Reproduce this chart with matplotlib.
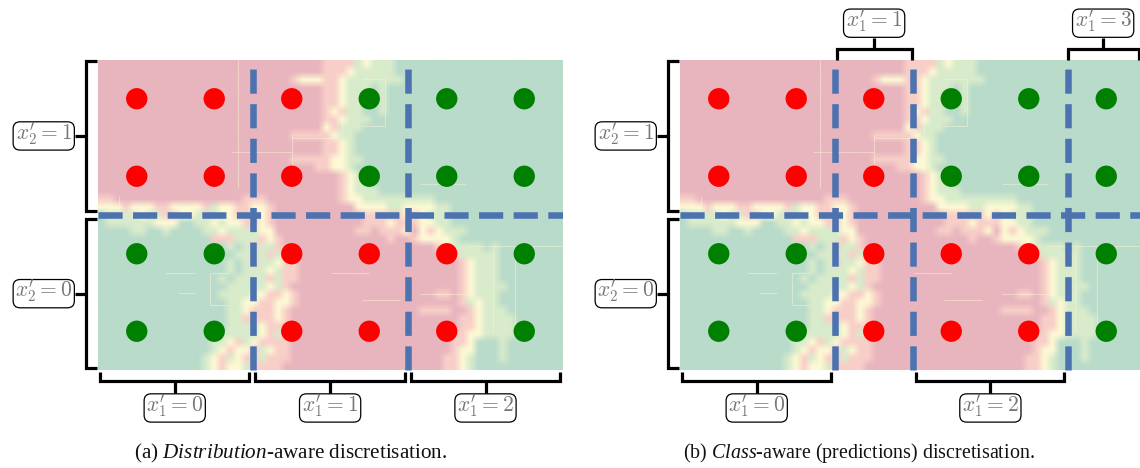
import numpy as np
import matplotlib
matplotlib.use("Agg")
import matplotlib.pyplot as plt
from matplotlib.colors import to_rgb
from matplotlib.patches import FancyBboxPatch

plt.rcParams['mathtext.fontset'] = 'custom'
plt.rcParams['mathtext.it'] = 'Liberation Serif:italic'
plt.rcParams['mathtext.rm'] = 'Liberation Serif'

x_points = [0, 1, 2, 3, 4, 5]
y_points = [0, 1, 2, 3]
classes_y3 = ['r', 'r', 'r', 'g', 'g', 'g']
classes_y2 = ['r', 'r', 'r', 'g', 'g', 'g']
classes_y1 = ['g', 'g', 'r', 'r', 'r', 'g']
classes_y0 = ['g', 'g', 'r', 'r', 'r', 'g']

cuts_a = [1.5, 3.5]
cuts_b = [1.5, 2.5, 4.5]
cut_y = [1.5]

bins_a = [(-0.47, 1.45, "$x^{\\prime}_1 = 0$"), (1.53, 3.46, "$x^{\\prime}_1 = 1$"), (3.54, 5.46, "$x^{\\prime}_1 = 2$")]
bins_b_bottom = [(-0.47, 1.45, "$x^{\\prime}_1 = 0$"), (2.55, 4.46, "$x^{\\prime}_1 = 2$")]
bins_b_top = [(1.52, 2.49, "$x^{\\prime}_1 = 1$"), (4.5, 5.42, "$x^{\\prime}_1 = 3$")]
bins_y = [(1.55, 3.49, "$x^{\\prime}_2 = 1$"), (-0.48, 1.45, "$x^{\\prime}_2 = 0$")]

# decision surface, top row first
surface = [
 "RRRRRRRRRRRRRRRRRRRRRRRRRRRRrrrrgygggGGGGGGGGGGGGGGGGGGGGG",
 "RRRRRRRRRRRRRRRRRRRRRRRRRRRRrrrygggggGGGGGGGGGGGGGGGGGGGGG",
 "RRRRRRRRRRRRRRRRRRRRRRRRryyyrrygggggggGGGGGGGGGGGGGGGGGGGG",
 "RRRRRRRRRRRRRRRRRRRRRRRRRRRRrrygggGgGGGGGGGGGGGGGGGGGGGGGG",
 "RRRRRRRRRRRRRRRRRRRRRRRRRRRRrryggGGgGGGGGGGGGGGGGGGGGGGGGG",
 "RRRRRRRRRRRRRRRRRRRRRRRRRRRRrryggGGgGGGGGGGGGGGGGGGGGGGGGG",
 "RRRRRRRRRRRRRRRRRRRRRRRRRRRRryrggGGgGGGGGGGGGGGGGGGGGGGGGG",
 "RRRRRRRRRRRRRRRRRRRRRRRRRRRRrrygggGGGGGGGGGGGGGGGGGGGGGGGG",
 "RRRRRRRRRRRRRRRRRRRRRRRRRRRRyrgggGGGGGGGGGGGGGGGGGGGGGGGGG",
 "RRRRRRRRRRRRRRRRRRRRRRRRrrrrryggGGGGGGGGGGGGGGGGGGGGGGGGGG",
 "RRRRRRRRRRRRRRRRRRRRRRRRRRRRrrygGGGGGGGGGGGGGGGGGGGGGGGGGG",
 "RRRRRRRRRRRRRRRRRRRRRRRRRRRRrrygGGGGGGGGGGGGGGGGGGGGGGGGGG",
 "RRRRRRRRRRRRRRRRRRRRRRRRrrrrryyggGGGGGGGGGGGGGGGGGGGGGGGGG",
 "RRRRRRRRRRRRRRRRRRRRRRRRRRRrryygGGGGGGGGGGGGGGGGGGGGGGGGGG",
 "RRRRRRRRRRRRRRRRRRRRRRRRRRRRRRryggGGGGGGGGGGGGGGGGGGGGGGGG",
 "RRRRRRRRRRRRRRRRRRRRRRRRRRRRRRryggGGGGGGGGGGGGGGGGGGGGGGGG",
 "RRRRRRRRRRRRRRRRRRRRRRRRRRRRRRrygggGGGGGGGGGGGGGGGGGGGGGGG",
 "rrRRRRRRRRRRRRRRRRrrrRRRRRRRRRryygggggggggGGGGGGGGGGGGGGGG",
 "yyyryyyrryyyyrgyyrryyrRRRRRRRRRRyyyyggyyyyggGGGGGGGGGGGGGG",
 "GggggyggrryygggyyrrryrRRRRRRRRRRRrrrrryrygggGGGGGGGGGGGGGG",
 "GggggggyyyGGggygyyrryrRRRRRRRRRRRrrryrrryyggGGGGGGGGGGGGGG",
 "GGGGggGGgGGGGggyggggyyRRRRRRRRRRrrRrrryRyrygggGGGGGGGGGGGG",
 "GGGGGGGGGGGGGGrrrgggryrRRRRRRRRRRRRRrRRryyyygGGGGGGGGGGGGG",
 "GGGGGGGGGGGGGGGGgGgrggrRRRRRRRRRRRRRRRRRRRryggggGgGGGGGGGG",
 "GGGGGGGGGGGGGGGGGggggrgrRRRRRRRRRRRRRRRRRRRRrgggggGGgGGGGG",
 "GGGGGGGGGGGGGGGGgGgrggyrrRRRRRRRRRRRRRRRRRRRRrygggGGGGGGGGG",
 "GGGGGGGGGGGGGGGGgGgggygrrRRRRRRRRRRRRRRRRRRRRrygggGGGGGGGGG",
 "GGGGGGGGGGGGGGGgGggggrgrrRRRRRRRRRRRRRRRRRRRRrygggGGGGGGGGG",
 "GGGGGGGGGGGGGGGGgggggygrRRRRRRRRRRRRRRRRRRRRRryggggGGGGGGGG",
 "GGGGGGGGGGGGGGGggggyyrryrRRRRRRRRRRRRRRRRRrrRrygggGGGGGGGGG",
 "GGGGGGGGGGGGGGGGggyyrryyrRRRRRRRRRRRRRRRRRRRRrgyggGGGGGGGGG",
 "GGGGGGGGGGGGGGGGggyrrryrRRRRRRRRRRRRRRRRrrrrRRrygggGGGGGGGG",
 "GGGGGGGGGGGGGGGGggrrrryrRRRRRRRRRRRRRRRRRRRRRrryggggGGGGGGG",
 "GGGGGGGGGGGGGGGGggggyrrrRRRRRRRRRRRRRRRRRRRRRrryggggGGGGGGG",
 "GGGGGGGGGGGGGGGgggggyrgrrRRRRRRRRRRRRRRRRRRRrryyggggGGGGGGG",
 "GGGGGGGGGGGGGGggyrgyrrrrRRRRRRRRRRRRRRRRRRRRrryGGGgGGGGGGGG",
 "GGGGGGGGGGGGGGgyryyrgyrrRRRRRRRRRRRRRRRRRRRRryyGGGgGGGGGGGG",
 "GGGGGGGGGGGGGgyrgyrrgrrrRRRRRRRRRRRRRRRRRRRrrygGGGgGGGGGGGG",
 "GGGGGGGGGGGGGgyryygrrrrRRRRRRRRRRRRRRRRRRRRrrygGGGGGGGGGGGG",
]

# thin pale streaks: x0, y0, x1, y1
streak_x0 = [1.30, 1.22, 2.0, 2.0, 2.65, 0.36, 0.53, 0.95, 0.95, 4.27, 4.6, 4.88, -0.23, 3.65, 2.9, 3.65, 2.9, 2.9, 3.2, 0.95, 2.5]
streak_y0 = [1.85, 2.31, 2.5, 2.55, 2.05, 0.75, 0.50, 0.34, 0.34, 1.10, 0.0, 0.0, 1.75, 1.90, 0.4, 0.48, 2.65, 3.26, 2.65, 0.75, 0.75]
streak_x1 = [1.30, 2.0, 2.55, 2.0, 2.65, 0.75, 0.75, 1.18, 0.95, 5.5, 4.6, 4.88, -0.23, 4.25, 3.4, 4.3, 3.2, 3.2, 3.2, 1.18, 3.0]
streak_y1 = [3.5, 2.31, 2.5, 1.95, 3.35, 0.75, 0.50, 0.34, 0.75, 1.10, 1.05, 1.05, 1.55, 1.90, 0.4, 0.48, 2.65, 3.26, 3.26, 0.75, 0.75]

symbols = "RrygG"
palette = ['#e8b5be', '#f8cfc8', '#fdf9d4', '#d8ebcb', '#b9dbca']
rgb = np.array([[to_rgb(palette[symbols.index(c)]) for c in row.ljust(58, 'G')[:58]] for row in surface])

point_colors = {'r': '#ff0000', 'g': '#008000'}
W, H = 1140, 468
fig = plt.figure(figsize=(W / 100, H / 100), dpi=100)


def panel(left_px):
    ax = fig.add_axes([left_px / W, (H - 370) / H, 465 / W, 310 / H])
    ax.imshow(rgb, extent=(-0.5, 5.5, -0.5, 3.5), aspect='auto', interpolation='bilinear', zorder=1)
    ax.set_xlim(-0.5, 5.5)
    ax.set_ylim(-0.5, 3.5)
    ax.axis('off')
    for a, b, c, d in zip(streak_x0, streak_y0, streak_x1, streak_y1):
        ax.plot([a, c], [b, d], color='#fdf6d8', lw=0.8, alpha=0.45, zorder=2, solid_capstyle='butt')
    for yv, cl in zip(y_points, [classes_y0, classes_y1, classes_y2, classes_y3]):
        ax.scatter(x_points, [yv] * len(x_points), s=236, c=[point_colors[c] for c in cl],
                   linewidths=0, zorder=3)
    return ax


def cuts(ax, xs):
    for xv in xs:
        ax.plot([xv, xv], [-0.5, 3.5], ls='--', lw=4.7, color='#4c72b0', zorder=4,
                dash_capstyle='butt', clip_on=False)
    for yv in cut_y:
        ax.plot([-0.5, 5.5], [yv, yv], ls='--', lw=4.7, color='#4c72b0', zorder=4,
                dash_capstyle='butt')


def label_box(ax, cx, cy, text):
    w, h = 0.79, 0.365
    ax.add_patch(FancyBboxPatch((cx - w / 2, cy - h / 2), w, h,
                                boxstyle='round,pad=0,rounding_size=0.09', fc='white', ec='black',
                                lw=0.9, clip_on=False, zorder=5))
    ax.text(cx, cy + 0.035, text, ha='center', va='center', fontsize=15.5, color='#777777',
            math_fontfamily='cm', zorder=6, clip_on=False)


def hbracket(ax, a, b, text, side):
    if side == 'bottom':
        y0, y1, y2, yb = -0.525, -0.645, -0.81, -0.99
    else:
        y0, y1, y2, yb = 3.5, 3.64, 3.79, 3.975
    ax.plot([a, a, b, b], [y0, y1, y1, y0], color='black', lw=2.3, clip_on=False,
            solid_joinstyle='miter', solid_capstyle='butt', zorder=5)
    mid = (a + b) / 2
    ax.plot([mid, mid], [y1, y2], color='black', lw=2.3, clip_on=False, solid_capstyle='butt', zorder=5)
    label_box(ax, mid, yb, text)


def vbracket(ax, a, b, text):
    x0, x1, x2, xb = -0.51, -0.655, -0.8, -1.2
    ax.plot([x0, x1, x1, x0], [a, a, b, b], color='black', lw=2.3, clip_on=False,
            solid_joinstyle='miter', solid_capstyle='butt', zorder=5)
    mid = (a + b) / 2
    ax.plot([x1, x2], [mid, mid], color='black', lw=2.3, clip_on=False, solid_capstyle='butt', zorder=5)
    label_box(ax, xb, mid, text)


ax_a = panel(98)
cuts(ax_a, cuts_a)
for a, b, t in bins_a:
    hbracket(ax_a, a, b, t, 'bottom')
for a, b, t in bins_y:
    vbracket(ax_a, a, b, t)

ax_b = panel(680)
cuts(ax_b, cuts_b)
for a, b, t in bins_b_bottom:
    hbracket(ax_b, a, b, t, 'bottom')
for a, b, t in bins_b_top:
    hbracket(ax_b, a, b, t, 'top')
for a, b, t in bins_y:
    vbracket(ax_b, a, b, t)

fig.text(290.5 / W, (H - 453) / H, r"(a) $\mathit{Distribution}$-aware discretisation.",
         ha='center', va='center', fontsize=15.2, family='Liberation Serif', color='#111111')
fig.text(859 / W, (H - 453) / H, r"(b) $\mathit{Class}$-aware (predictions) discretisation.",
         ha='center', va='center', fontsize=14.4, family='Liberation Serif', color='#111111')

fig.savefig('out.png', dpi=100)
